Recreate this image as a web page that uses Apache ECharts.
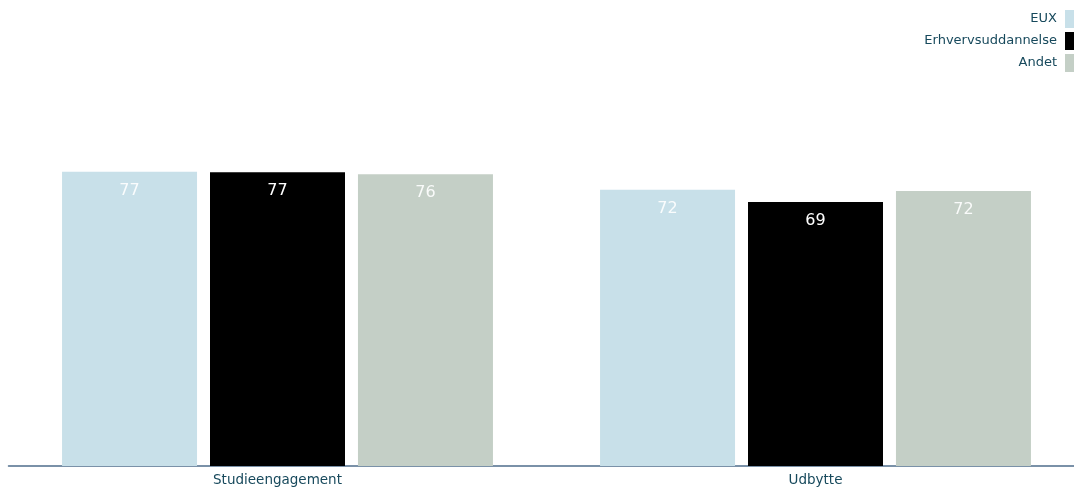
<!DOCTYPE html>
<html><head><meta charset="utf-8">
<script src="https://cdn.jsdelivr.net/npm/echarts@6/dist/echarts.min.js"></script>
<style>html,body{margin:0;padding:0;background:#fff}#c{width:1074px;height:489px}</style>
</head><body><div id="c"></div>
<script>
const categories = ["Studieengagement", "Udbytte"];
const seriesNames = ["EUX", "Erhvervsuddannelse", "Andet"];
const eux = [77.0, 72.3];
const erhverv = [76.9, 69.1];
const andet = [76.4, 72.0];
const colors = ["#c8e0e9", "#000000", "#c4cfc6"];
const values = [eux, erhverv, andet];
const font = "DejaVu Sans";
const chart = echarts.init(document.getElementById('c'));
chart.setOption({
  animation: false,
  textStyle: {fontFamily: font},
  legend: {
    orient: 'vertical', right: 0, top: 10, align: 'right', padding: 0,
    itemWidth: 9, itemHeight: 18, itemGap: 4,
    icon: 'rect',
    textStyle: {color: '#17495c', fontSize: 13, fontFamily: font, padding: [0, 3, 0, 0]},
    data: seriesNames
  },
  grid: {left: 8.5, top: 84, width: 1076, height: 382, containLabel: false, outerBoundsMode: 'none'},
  xAxis: {
    type: 'category', data: categories,
    axisLine: {lineStyle: {color: '#4f6d8c', width: 1.5}},
    axisTick: {show: false},
    axisLabel: {color: '#17495c', fontSize: 13.5, margin: 7, fontFamily: font}
  },
  yAxis: {type: 'value', min: 0, max: 100, show: false, splitLine: {show: false}},
  series: seriesNames.map((n, i) => ({
    name: n, type: 'bar', data: values[i],
    barWidth: 135, barGap: '9.6%', barCategoryGap: '19.9%',
    itemStyle: {color: colors[i]},
    label: {
      show: true, position: 'insideTop', distance: 11,
      formatter: p => Math.round(p.value),
      color: i === 1 ? '#ffffff' : 'rgba(255,255,255,0.9)', fontSize: 16, fontFamily: font
    }
  }))
});
</script></body></html>
